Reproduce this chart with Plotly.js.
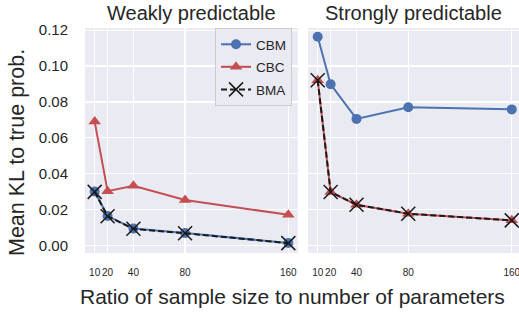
<!DOCTYPE html>
<html>
<head>
<meta charset="utf-8">
<script src="https://cdn.plot.ly/plotly-3.0.1.min.js"></script>
<style>html,body{margin:0;padding:0;background:#fff;}#chart{width:519px;height:313px;}</style>
</head>
<body>
<div id="chart"></div>
<script>
var ratios = [10, 20, 40, 80, 160];
var tickLabels = ['10', '20', '40', '80', '160'];
var yTickVals = [0, 0.02, 0.04, 0.06, 0.08, 0.10, 0.12];
var yTickLabels = ['0.00', '0.02', '0.04', '0.06', '0.08', '0.10', '0.12'];

var weakCBM = [0.0300, 0.0163, 0.0093, 0.0068, 0.0013];
var weakCBC = [0.0690, 0.0302, 0.0332, 0.0253, 0.0170];
var weakBMA = [0.0298, 0.0162, 0.0092, 0.0067, 0.0012];

var strongCBM = [0.1163, 0.0898, 0.0705, 0.0770, 0.0758];
var strongCBC = [0.0921, 0.0297, 0.0226, 0.0176, 0.0139];
var strongBMA = [0.0921, 0.0297, 0.0226, 0.0176, 0.0139];

var panelTitles = ['Weakly predictable', 'Strongly predictable'];
var seriesNames = ['CBM', 'CBC', 'BMA'];

var blue = '#4C72B0', red = '#C44E52', black = '#1a1a1a';

function cbm(y, xa, ya, show) {
  return {x: ratios, y: y, xaxis: xa, yaxis: ya, name: seriesNames[0], legendgroup: 'cbm', showlegend: show,
    mode: 'lines+markers', line: {color: blue, width: 2}, marker: {symbol: 'circle', size: 10, color: blue}};
}
function cbc(y, xa, ya, show) {
  return {x: ratios, y: y, xaxis: xa, yaxis: ya, name: seriesNames[1], legendgroup: 'cbc', showlegend: show,
    mode: 'lines+markers', line: {color: red, width: 2}, marker: {symbol: 'triangle-up', size: 11, color: red}};
}
function bma(y, xa, ya, show) {
  return {x: ratios, y: y, xaxis: xa, yaxis: ya, name: seriesNames[2], legendgroup: 'bma', showlegend: show,
    mode: 'lines+markers', line: {color: black, width: 2, dash: '6px,3px'},
    marker: {symbol: 'x-thin', size: 14, color: black, line: {color: black, width: 1.5}}};
}

var data = [
  cbm(weakCBM, 'x', 'y', true), cbc(weakCBC, 'x', 'y', true), bma(weakBMA, 'x', 'y', true),
  cbm(strongCBM, 'x2', 'y2', false), cbc(strongCBC, 'x2', 'y2', false), bma(strongBMA, 'x2', 'y2', false)
];

var font = 'Liberation Sans, Arial, sans-serif';
var txt = '#262626';

function xax(domain, range) {
  return {domain: domain, range: range, tickvals: ratios, ticktext: tickLabels, showgrid: true,
    gridcolor: '#ffffff', gridwidth: 1.3, zeroline: false, showline: false, tickangle: 0,
    ticklabeloverflow: 'allow',
    ticks: 'outside', ticklen: 10, tickcolor: 'rgba(0,0,0,0)',
    tickfont: {family: font, size: 10, color: txt}};
}

var layout = {
  width: 519, height: 313,
  margin: {l: 85, r: 0, t: 28, b: 60},
  paper_bgcolor: '#ffffff', plot_bgcolor: '#EAEAF2',
  font: {family: font, color: txt},
  showlegend: true,
  legend: {x: 0.477, xanchor: 'right', y: 1.0, yanchor: 'top', bgcolor: '#EAEAF2',
    bordercolor: '#CCCCCC', borderwidth: 1, font: {family: font, size: 13.5, color: txt},
    tracegroupgap: 2},
  xaxis: xax([0, 213 / 434], [2.5, 167.5]),
  xaxis2: xax([223 / 434, 1], [2.5, 165.6]),
  yaxis: {range: [-0.0043, 0.1212], tickvals: yTickVals, ticktext: yTickLabels, showgrid: true,
    gridcolor: '#ffffff', gridwidth: 1.3, zeroline: false, showline: false,
    ticks: 'outside', ticklen: 13, tickcolor: 'rgba(0,0,0,0)',
    tickfont: {family: font, size: 15, color: txt}},
  yaxis2: {anchor: 'x2', matches: 'y', range: [-0.0043, 0.1212], tickvals: yTickVals, showticklabels: false,
    showgrid: true, gridcolor: '#ffffff', gridwidth: 1.3, zeroline: false, showline: false, ticks: ''},
  annotations: [
    {text: panelTitles[0], xref: 'paper', yref: 'paper', x: 106.5 / 434, y: 1, xanchor: 'center', yanchor: 'bottom',
      yshift: 2, showarrow: false, font: {family: font, size: 20, color: txt}},
    {text: panelTitles[1], xref: 'paper', yref: 'paper', x: 328.5 / 434, y: 1, xanchor: 'center', yanchor: 'bottom',
      yshift: 2, showarrow: false, font: {family: font, size: 20, color: txt}},
    {text: 'Ratio of sample size to number of parameters', xref: 'paper', yref: 'paper', x: 207 / 434, y: 0,
      xanchor: 'center', yanchor: 'middle', yshift: -43, showarrow: false, font: {family: font, size: 21, color: txt}},
    {text: 'Mean KL to true prob.', xref: 'paper', yref: 'paper', x: 0, y: (253 - 153) / 225, xanchor: 'center',
      yanchor: 'middle', xshift: -68, textangle: -90, showarrow: false, font: {family: font, size: 21.5, color: txt}}
  ]
};

Plotly.newPlot('chart', data, layout, {displayModeBar: false, staticPlot: true});
</script>
</body>
</html>
